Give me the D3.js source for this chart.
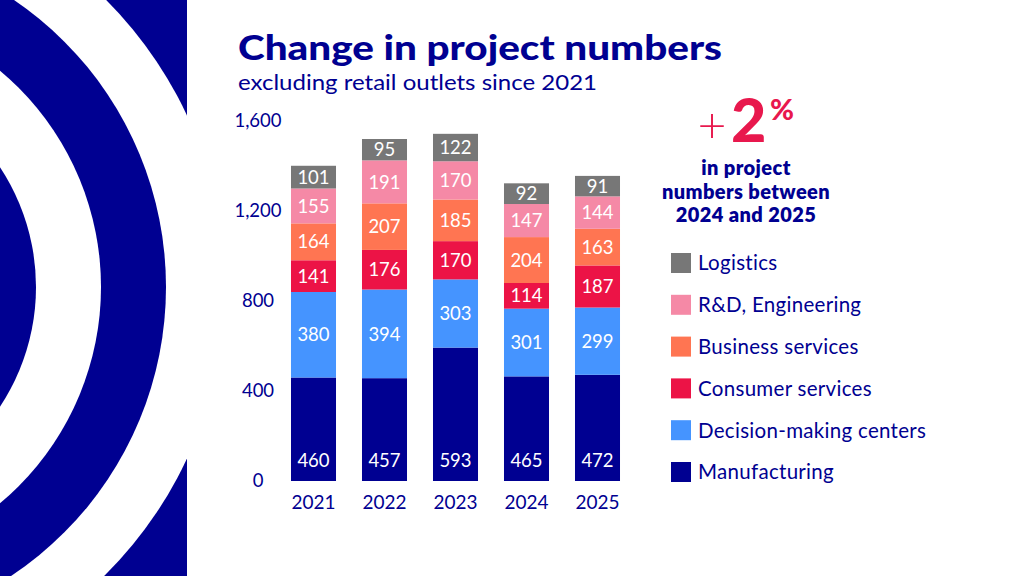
<!DOCTYPE html>
<html>
<head>
<meta charset="utf-8">
<script src="https://cdn.jsdelivr.net/npm/d3@7"></script>
<style>
  html, body { margin: 0; padding: 0; background: #fff; }
  svg { display: block; font-family: Lato, "Noto Sans", sans-serif; }
</style>
</head>
<body>
<div id="chart"></div>
<script>
// 数据
const years = ['2021', '2022', '2023', '2024', '2025'];
const sectors = ['Manufacturing', 'Decision-making centers', 'Consumer services', 'Business services', 'R&D, Engineering', 'Logistics'];
const manufacturing = [460, 457, 593, 465, 472];
const decisionCenters = [380, 394, 303, 301, 299];
const consumerServices = [141, 176, 170, 114, 187];
const businessServices = [164, 207, 185, 204, 163];
const rdEngineering = [155, 191, 170, 147, 144];
const logistics = [101, 95, 122, 92, 91];
const yTicks = [0, 400, 800, 1200, 1600];
const sectorColors = ['#000091', '#4594FF', '#EC1346', '#FF7552', '#F589A6', '#777777'];

const navy = '#000091';
const W = 1024, H = 576;

const svg = d3.select('#chart').append('svg')
    .attr('width', W)
    .attr('height', H);

// 左侧装饰圆环
svg.append('defs').append('clipPath').attr('id', 'leftClip')
    .append('rect').attr('x', 0).attr('y', 0).attr('width', 187).attr('height', H);
const deco = svg.append('g').attr('clip-path', 'url(#leftClip)');
deco.append('rect').attr('width', 187).attr('height', H).attr('fill', navy);
const rings = [[406, '#fff'], [347, navy], [282, '#fff'], [217, navy]];
deco.selectAll('circle')
    .data(rings)
    .enter().append('circle')
    .attr('cx', -181)
    .attr('cy', 287)
    .attr('r', d => d[0])
    .attr('fill', d => d[1]);

// 标题
svg.append('text')
    .attr('x', 238).attr('y', 60)
    .attr('fill', navy)
    .attr('font-size', 34)
    .attr('font-weight', 900)
    .attr('textLength', 484)
    .attr('lengthAdjust', 'spacingAndGlyphs')
    .text('Change in project numbers');

svg.append('text')
    .attr('x', 238).attr('y', 90)
    .attr('fill', navy)
    .attr('font-size', 22)
    .attr('textLength', 359)
    .attr('lengthAdjust', 'spacingAndGlyphs')
    .text('excluding retail outlets since 2021');

// 比例尺
const x = d3.scaleBand().domain(years).range([278, 633]).paddingInner(0.366).paddingOuter(0.183);
const y = d3.scaleLinear().domain([0, 1600]).range([481, 121]);

// Y轴
const yAxis = svg.append('g')
    .attr('transform', 'translate(258,0)')
    .call(d3.axisLeft(y).tickValues(yTicks).tickSize(0).tickPadding(0).tickFormat(d3.format(',')));
yAxis.select('.domain').remove();
yAxis.selectAll('text')
    .attr('text-anchor', 'middle')
    .attr('fill', navy)
    .attr('font-size', 18.5)
    .attr('font-family', 'Lato, sans-serif');

// X轴
const xAxis = svg.append('g')
    .attr('transform', 'translate(0,495)')
    .call(d3.axisBottom(x).tickSize(0).tickPadding(0));
xAxis.select('.domain').remove();
xAxis.selectAll('text')
    .attr('fill', navy)
    .attr('font-size', 19)
    .attr('dy', '0.71em')
    .attr('font-family', 'Lato, sans-serif');

// 堆叠
const table = years.map((yr, i) => ({
    year: yr,
    'Manufacturing': manufacturing[i],
    'Decision-making centers': decisionCenters[i],
    'Consumer services': consumerServices[i],
    'Business services': businessServices[i],
    'R&D, Engineering': rdEngineering[i],
    'Logistics': logistics[i]
}));
const stacked = d3.stack().keys(sectors)(table);

const layer = svg.append('g').selectAll('g')
    .data(stacked)
    .enter().append('g')
    .attr('fill', (d, i) => sectorColors[i]);

layer.selectAll('rect')
    .data(d => d)
    .enter().append('rect')
    .attr('x', d => x(d.data.year))
    .attr('width', x.bandwidth())
    .attr('y', d => y(d[1]))
    .attr('height', d => y(d[0]) - y(d[1]));

// 数值标签
stacked.forEach((s, si) => {
    svg.append('g').selectAll('text')
        .data(s)
        .enter().append('text')
        .attr('x', d => x(d.data.year) + x.bandwidth() / 2)
        .attr('y', d => si === 0 ? y(d[0]) - 21 : (y(d[0]) + y(d[1])) / 2)
        .attr('dy', '0.36em')
        .attr('text-anchor', 'middle')
        .attr('fill', '#fff')
        .attr('font-size', 18.5)
        .text(d => d.data[s.key]);
});

// +2%
const red = '#E8184D';
svg.append('text')
    .attr('x', 712).attr('y', 126).attr('dy', '0.33em')
    .attr('text-anchor', 'middle')
    .attr('fill', red)
    .attr('font-size', 50).attr('font-weight', 300)
    .text('+');
svg.append('text')
    .attr('x', 731).attr('y', 142)
    .attr('fill', red)
    .attr('font-size', 61).attr('font-weight', 900)
    .text('2');
svg.append('text')
    .attr('x', 770).attr('y', 120)
    .attr('fill', red)
    .attr('font-size', 29).attr('font-weight', 900)
    .text('%');

const note = ['in project', 'numbers between', '2024 and 2025'];
svg.append('g').selectAll('text')
    .data(note)
    .enter().append('text')
    .attr('x', 746)
    .attr('y', (d, i) => 175 + i * 23.5)
    .attr('text-anchor', 'middle')
    .attr('fill', navy)
    .attr('font-size', 20)
    .attr('font-weight', 800)
    .attr('letter-spacing', 0.4)
    .text(d => d);

// 图例
const legendItems = sectors.slice().reverse();
const legendColors = sectorColors.slice().reverse();
const legend = svg.append('g').selectAll('g')
    .data(legendItems)
    .enter().append('g')
    .attr('transform', (d, i) => `translate(671,${263 + i * 41.8})`);
legend.append('rect')
    .attr('x', 0).attr('y', -10)
    .attr('width', 20).attr('height', 20)
    .attr('fill', (d, i) => legendColors[i]);
legend.append('text')
    .attr('x', 27).attr('dy', '0.36em')
    .attr('fill', navy)
    .attr('font-size', 20.5)
    .attr('letter-spacing', 0.3)
    .text(d => d);
</script>
</body>
</html>
